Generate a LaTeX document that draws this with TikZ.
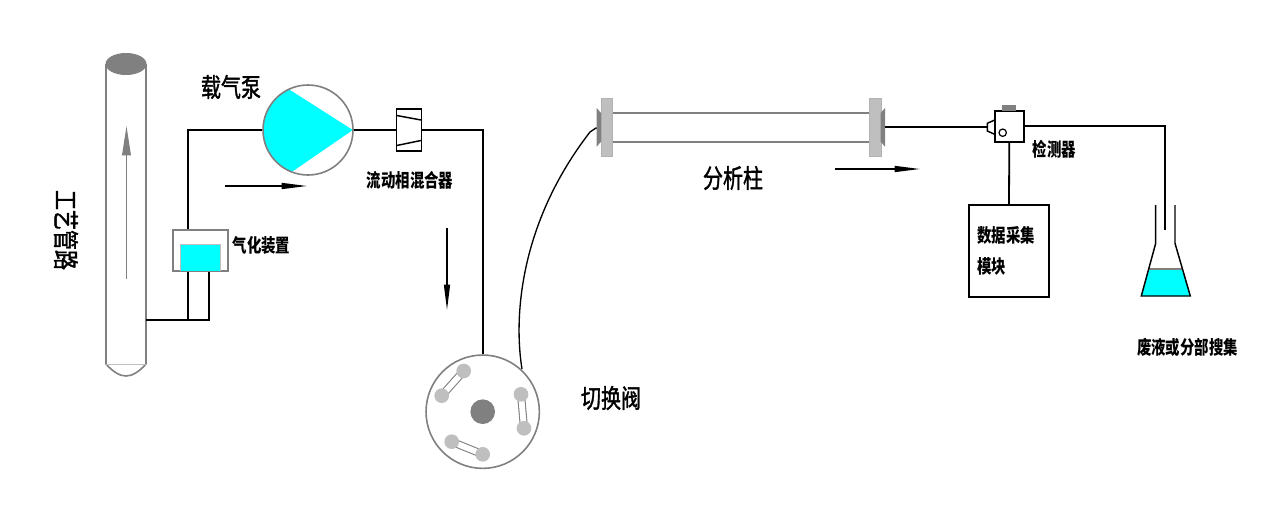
\documentclass[tikz,border=0pt]{standalone}
\usepackage{fontspec}
\usepackage{graphicx}
\usetikzlibrary{arrows.meta,calc}
\newfontfamily\cjk{Noto Sans CJK SC}
\newfontfamily\cjkm[FakeBold=1.6]{Noto Sans CJK SC}
\definecolor{gl}{gray}{0.5}
\definecolor{pl}{gray}{0.75}
\definecolor{aq}{rgb}{0,1,1}
\newcommand{\tall}[1]{\scalebox{1}[1.3]{#1}}
\tikzset{
  x=0.75pt,y=-0.75pt,
  pipe/.style={draw=black,line width=1.35pt},
  grayline/.style={draw=gl,line width=1.2pt},
  flowarrow/.style={draw=black,line width=1pt,-{Triangle[length=19pt,width=4.5pt]}},
  biglabel/.style={inner sep=0pt,font=\cjkm\fontsize{15}{15}\selectfont},
  smalllabel/.style={inner sep=0pt,font=\cjk\bfseries\fontsize{10.8}{11}\selectfont},
  link/.style={draw=gl,line width=6pt,line cap=butt},
  linkin/.style={draw=white,line width=4.4pt,line cap=butt},
  portdot/.style={circle,fill=pl,minimum size=11pt,inner sep=0pt},
}
\begin{document}
\begin{tikzpicture}
\useasboundingbox (0,0) rectangle (1275,504);
\fill[white] (0,0) rectangle (1275,504);
% process tube
\coordinate (tubeOut) at (146,320);
\draw[grayline,fill=white] (106,64) -- (106,364) .. controls (113,372) and (120,376) .. (126,376) .. controls (132,376) and (139,372) .. (146,364) -- (146,64);
\draw[draw=pl,line width=0.5pt] (106,364) -- (146,364);
\fill[gl] (126,64) ellipse [x radius=20.5,y radius=11];
\coordinate (tubeA) at (126.5,279);
\coordinate (tubeB) at (126.5,126);
\draw[draw=gl,line width=1pt,-{Triangle[length=22pt,width=6.5pt]}] (tubeA) -- (tubeB);
\node[biglabel,rotate=-90] (lblTube) at (66,230) {\tall{工艺管路}};
% vaporiser
\node[draw=gl,line width=1.2pt,fill=white,minimum width=41pt,minimum height=30.5pt,inner sep=0pt] (vap) at (200.5,250.5) {};
\fill[aq] (180,244) rectangle (220,271);
\draw[draw=pl,line width=0.6pt] (180,271) -- (180,244) -- (220,244) -- (220,271);
\node[smalllabel] (lblVap) at (261.5,245) {\tall{气化装置}};
% pump
\begin{scope}
\clip (308,130) circle [radius=45];
\fill[aq] (352.8,130) -- (280,83.6) -- (200,40) -- (200,220) -- (283,178) -- cycle;
\end{scope}
\node[circle,draw=gl,line width=1.2pt,minimum size=67.5pt,inner sep=0pt] (pump) at (308,130) {};
\node[biglabel] (lblPump) at (231,87) {\tall{载气泵}};
% mixer
\node[draw=black,line width=1.35pt,minimum width=18.8pt,minimum height=31pt,inner sep=0pt] (mixer) at (409,130) {};
\draw[pipe,line width=1.1pt] (396.7,115.5) -- (421,120);
\draw[pipe,line width=1.1pt] (396.7,145.5) -- (421,140.5);
\node[smalllabel] (lblMix) at (410,180) {\tall{流动相混合器}};
% valve
\node[circle,draw=gl,line width=1.2pt,minimum size=85pt,inner sep=0pt] (valve) at (482.7,411.7) {};
\node[circle,fill=gl,minimum size=18.5pt,inner sep=0pt] (hub) at (482.7,411.7) {};
\coordinate (p1) at (463.7,371); \coordinate (p2) at (441.7,395.7);
\coordinate (q1) at (521,394.3); \coordinate (q2) at (524,428.3);
\coordinate (r1) at (451.7,441.7); \coordinate (r2) at (482.7,454.3);
\foreach \u/\v in {p1/p2,q1/q2,r1/r2}{
  \draw[link] (\u) -- (\v);
  \draw[linkin] (\u) -- (\v);
  \node[portdot] at (\u) {};
  \node[portdot] at (\v) {};
}
\node[biglabel] (lblValve) at (611,398) {\tall{切换阀}};
% column
\draw[grayline] (610,112.7) -- (870,112.7);
\draw[grayline] (610,141.7) -- (870,141.7);
\node[fill=pl,draw=black!30,line width=0.3pt,minimum width=8.6pt,minimum height=44pt,inner sep=0pt] (flangeL) at (606.7,127.2) {};
\node[fill=pl,draw=black!30,line width=0.3pt,minimum width=8.6pt,minimum height=44pt,inner sep=0pt] (flangeR) at (875,127.2) {};
\fill[gl] (596.7,108) -- (601,113) -- (601,141.7) -- (596.7,146.7) -- cycle;
\fill[gl] (885,108) -- (880.7,113) -- (880.7,141.7) -- (885,146.7) -- cycle;
\coordinate (colIn) at (596.5,127.7);
\coordinate (colOut) at (885,127);
\node[biglabel] (lblCol) at (733,178) {\tall{分析柱}};
% detector
\node[draw=black,line width=1.35pt,fill=white,minimum width=22pt,minimum height=23pt,inner sep=0pt] (det) at (1009.3,126.3) {};
\fill[gl] (1002.3,105) rectangle (1015.7,111);
\draw[pipe,line width=1.1pt] (994.7,120) -- (987.3,123.3) -- (987.3,131) -- (994.7,134.3);
\draw[draw=black,line width=0.9pt] (1002.7,132.7) circle [radius=3.7];
\coordinate (detIn) at (987.3,127);
\coordinate (detOut) at (1024,126.3);
\node[smalllabel] (lblDet) at (1054.5,149) {\tall{检测器}};
% acquisition box
\node[draw=black,line width=1.35pt,minimum width=60.5pt,minimum height=69.5pt,inner sep=0pt] (daq) at (1009,251) {};
\node[smalllabel,anchor=west] (lblDaq1) at (977,235) {\tall{数据采集}};
\node[smalllabel,anchor=west] (lblDaq2) at (977,266) {\tall{模块}};
% flask
\fill[aq] (1148.5,269) -- (1182.5,269) -- (1190.3,296) -- (1141.3,296) -- cycle;
\draw[draw=gl,line width=0.8pt] (1148.5,269) -- (1182.5,269);
\draw[draw=black,line width=1.1pt] (1155.7,205) -- (1155.7,243.3) -- (1141.3,296) -- (1190.3,296) -- (1175,243.3) -- (1175,205);
\coordinate (flaskIn) at (1164.7,230);
\node[smalllabel] (lblFlask) at (1187.5,347) {\tall{废液或分部搜集}};
% connectors
\coordinate (j1) at (188,320);
\coordinate (j2) at (209,320);
\draw[pipe] (tubeOut) -- (j2) -- (j2 |- vap.south);
\draw[pipe] (j1) -- (j1 |- vap.south);
\draw[pipe] (j1 |- vap.north) -- (pump.west -| j1) -- (pump.west);
\draw[pipe] (pump.east) -- (mixer.west);
\draw[pipe] (mixer.east) -- (mixer.east -| valve.north) -- (valve.north);
\draw[pipe] (colOut) -- (detIn);
\draw[pipe] (det.south) -- (daq.north);
\draw[pipe] (detOut) -- (detOut -| flaskIn) -- (flaskIn);
\coordinate (valveOut) at (522,369);
\draw[draw=black,line width=1pt] (valveOut) .. controls (514,320) and (518,225) .. (590,132) -- (colIn);
% flow arrows
\coordinate (a1) at (225,186); \coordinate (a2) at (307,186);
\draw[flowarrow] (a1) -- (a2);
\coordinate (a3) at (447,228); \coordinate (a4) at (447,310);
\draw[flowarrow] (a3) -- (a4);
\coordinate (a5) at (835,169); \coordinate (a6) at (920,169);
\draw[flowarrow] (a5) -- (a6);
\end{tikzpicture}
\end{document}
